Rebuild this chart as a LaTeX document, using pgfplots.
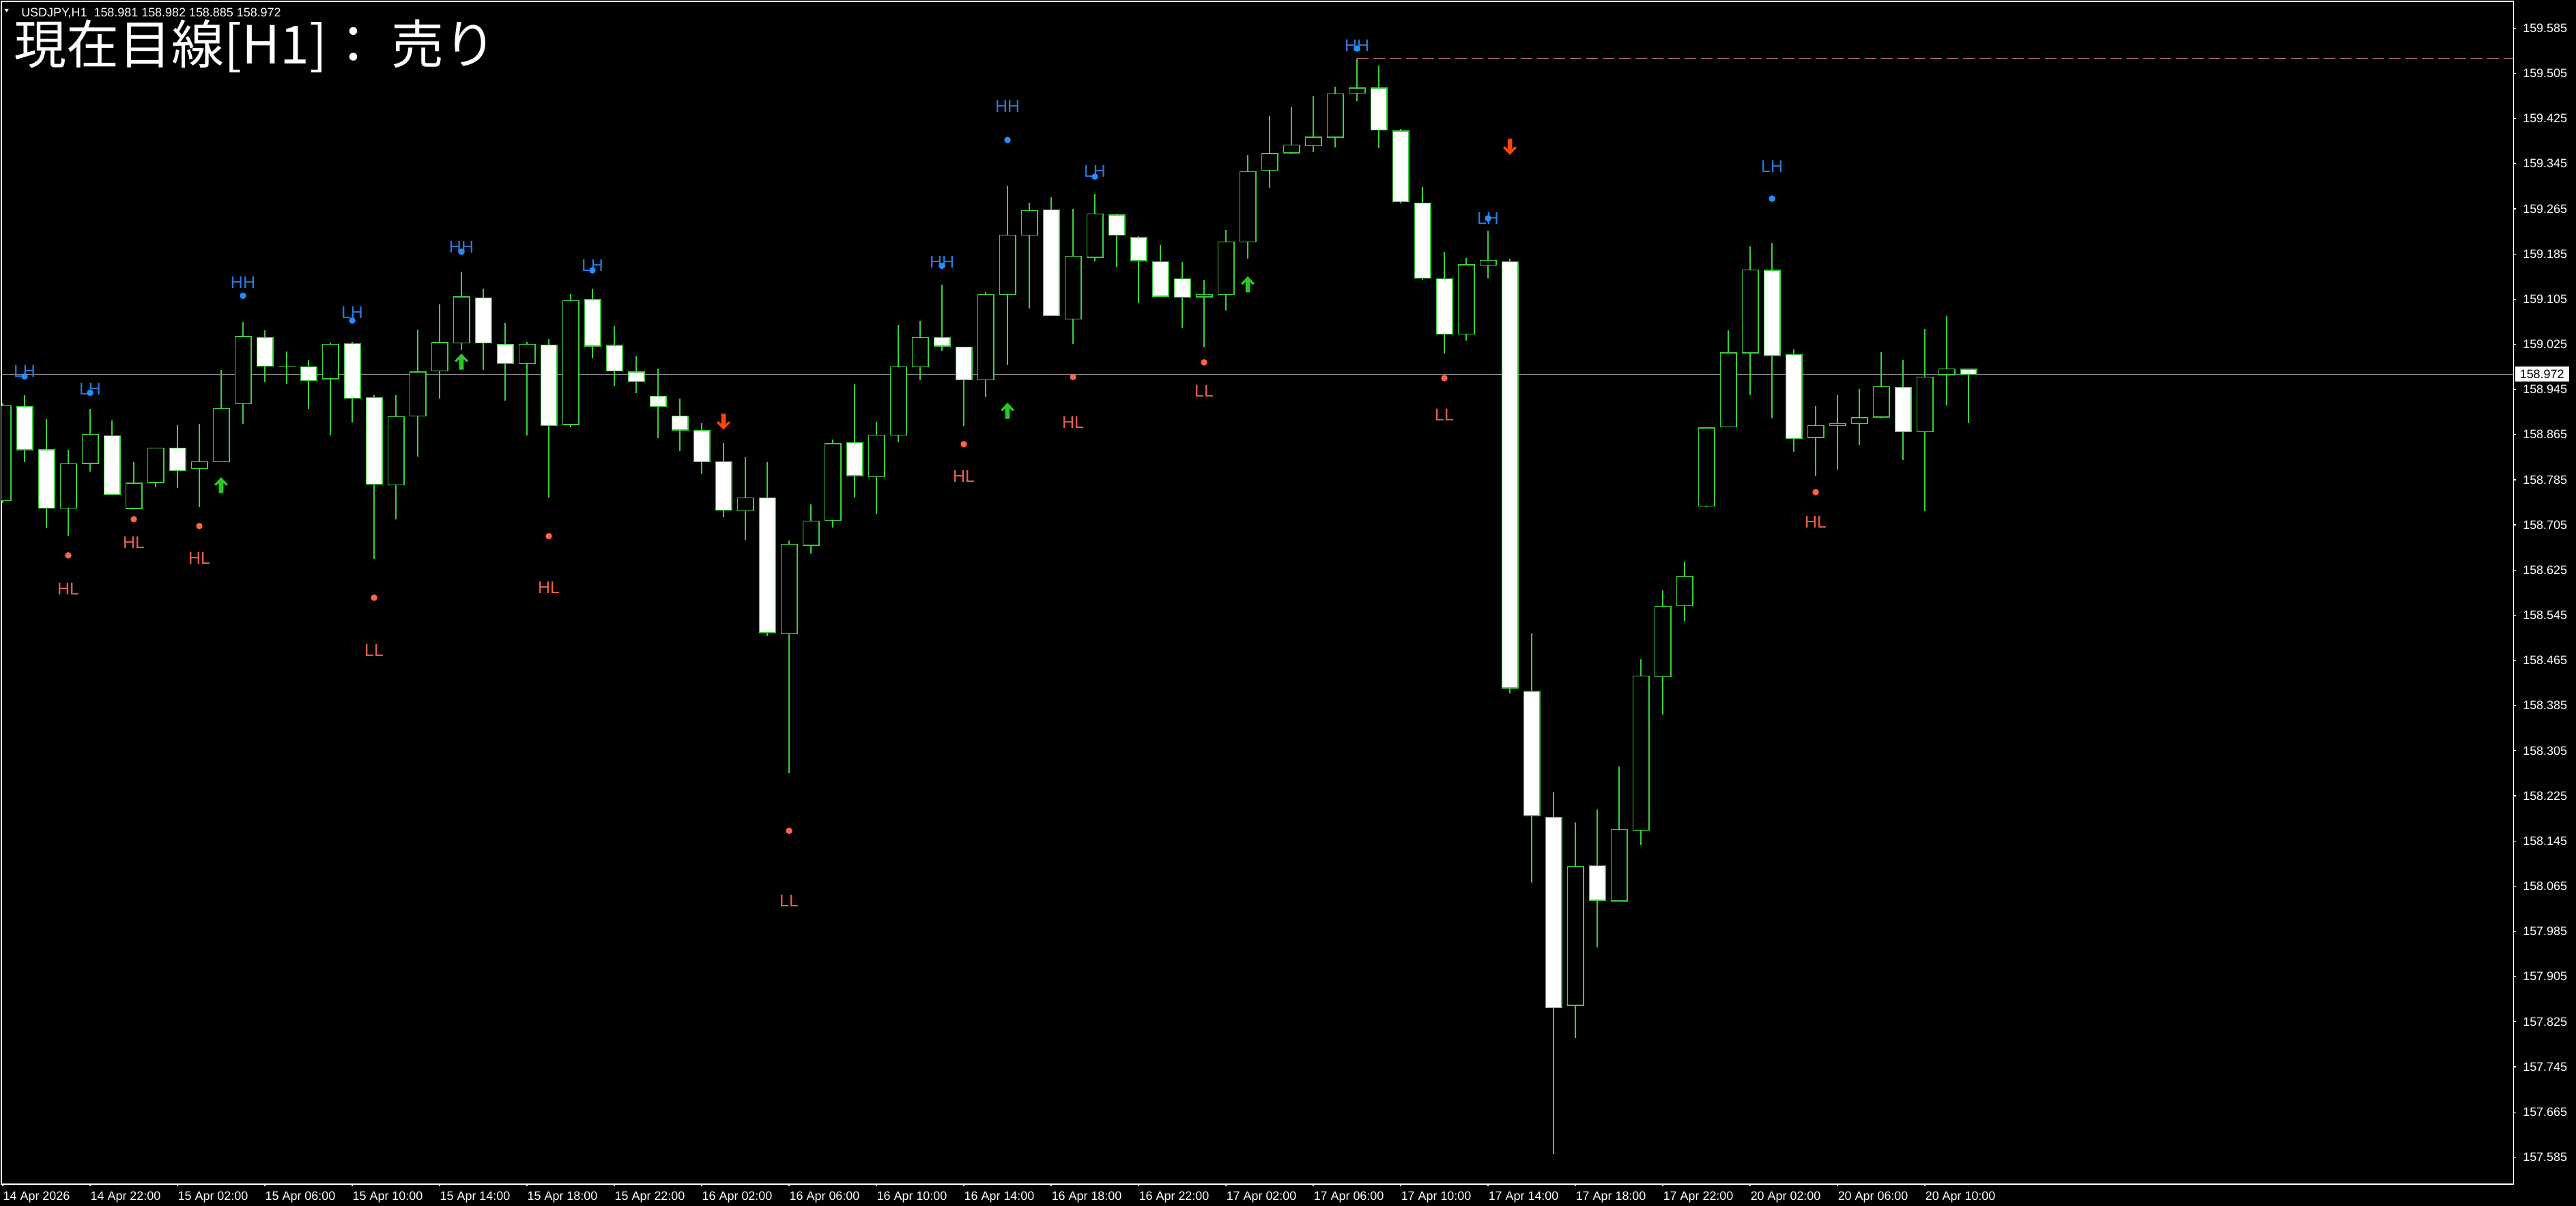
\documentclass[border=0pt]{standalone}
\usepackage{fontspec}
\setmainfont{Liberation Sans}
\newfontfamily\cjk{Noto Sans CJK JP}
\usepackage{pgfplots}
\usepackage{pgfplotstable}
\pgfplotsset{compat=1.18}

\definecolor{cgreen}{RGB}{55,210,55}
\definecolor{cprice}{RGB}{150,150,150}
\definecolor{cblue}{RGB}{40,122,222}
\definecolor{cbluedot}{RGB}{30,144,255}
\definecolor{cred}{RGB}{235,95,75}
\definecolor{creddot}{RGB}{255,99,71}
\definecolor{cup}{RGB}{40,200,40}
\definecolor{cdown}{RGB}{255,69,0}
\definecolor{cdash}{RGB}{190,115,115}

\newcommand\tickfont{\fontsize{5.1}{6}\selectfont}
\newcommand\lblfont{\fontsize{7.1}{8}\selectfont}
\def\hpx{0.0008}

\pgfplotsset{
  bare/.style={only marks, mark=none, mark size=0pt, mark options={draw=none, fill=none}},
}

% signal arrows
\pgfdeclareplotmark{arrup}{%
  \pgfpathmoveto{\pgfpoint{0mm}{1.2mm}}%
  \pgfpathlineto{\pgfpoint{1.0mm}{0.15mm}}%
  \pgfpathlineto{\pgfpoint{0.75mm}{-0.05mm}}%
  \pgfpathlineto{\pgfpoint{0.33mm}{0.35mm}}%
  \pgfpathlineto{\pgfpoint{0.33mm}{-1.15mm}}%
  \pgfpathlineto{\pgfpoint{-0.33mm}{-1.15mm}}%
  \pgfpathlineto{\pgfpoint{-0.33mm}{0.35mm}}%
  \pgfpathlineto{\pgfpoint{-0.75mm}{-0.05mm}}%
  \pgfpathlineto{\pgfpoint{-1.0mm}{0.15mm}}%
  \pgfpathclose\pgfusepathqfill}
\pgfdeclareplotmark{arrdown}{%
  \pgfpathmoveto{\pgfpoint{0mm}{-1.2mm}}%
  \pgfpathlineto{\pgfpoint{1.0mm}{-0.15mm}}%
  \pgfpathlineto{\pgfpoint{0.75mm}{0.05mm}}%
  \pgfpathlineto{\pgfpoint{0.33mm}{-0.35mm}}%
  \pgfpathlineto{\pgfpoint{0.33mm}{1.15mm}}%
  \pgfpathlineto{\pgfpoint{-0.33mm}{1.15mm}}%
  \pgfpathlineto{\pgfpoint{-0.33mm}{-0.35mm}}%
  \pgfpathlineto{\pgfpoint{-0.75mm}{0.05mm}}%
  \pgfpathlineto{\pgfpoint{-1.0mm}{-0.15mm}}%
  \pgfpathclose\pgfusepathqfill}

% bar index, open, high, low, close
\pgfplotstableread{
i O H L C
0 158.748 158.920 158.744 158.916
3 158.735 158.838 158.686 158.813
4 158.814 158.911 158.800 158.865
6 158.734 158.816 158.733 158.779
7 158.780 158.842 158.772 158.841
9 158.805 158.884 158.737 158.817
10 158.817 158.979 158.816 158.911
11 158.920 159.064 158.884 159.039
13 158.986 159.012 158.954 158.986
15 158.964 159.028 158.863 159.025
18 158.776 158.935 158.715 158.897
19 158.898 159.051 158.826 158.976
20 158.978 159.096 158.929 159.028
21 159.027 159.154 159.015 159.109
24 158.991 159.029 158.863 159.025
26 158.883 159.114 158.878 159.102
34 158.730 158.825 158.678 158.753
36 158.512 158.677 158.265 158.671
37 158.669 158.741 158.654 158.712
38 158.713 158.856 158.700 158.849
40 158.790 158.888 158.725 158.864
41 158.864 159.059 158.851 158.985
42 158.985 159.067 158.961 159.037
45 158.962 159.117 158.931 159.113
46 159.113 159.306 158.988 159.218
47 159.218 159.276 159.088 159.262
49 159.070 159.265 159.025 159.181
50 159.179 159.292 159.172 159.256
55 159.109 159.139 159.020 159.113
56 159.113 159.228 159.085 159.206
57 159.206 159.360 159.177 159.331
58 159.333 159.429 159.302 159.363
59 159.364 159.445 159.362 159.378
60 159.377 159.465 159.365 159.392
61 159.392 159.482 159.374 159.469
62 159.470 159.531 159.456 159.479
67 159.043 159.178 159.031 159.166
68 159.165 159.226 159.142 159.174
72 157.854 158.178 157.796 158.100
74 158.039 158.277 158.038 158.165
75 158.164 158.467 158.138 158.437
76 158.436 158.589 158.369 158.561
77 158.562 158.640 158.535 158.614
78 158.738 158.878 158.737 158.877
79 158.879 159.050 158.878 159.010
80 159.010 159.199 158.935 159.157
83 158.860 158.915 158.792 158.881
84 158.881 158.935 158.803 158.885
85 158.885 158.946 158.847 158.895
86 158.896 159.011 158.894 158.950
88 158.870 159.052 158.729 158.967
89 158.971 159.075 158.917 158.981
}\bull

\pgfplotstableread{
i O H L C
1 158.915 158.935 158.816 158.838
2 158.838 158.892 158.699 158.735
5 158.863 158.890 158.758 158.759
8 158.841 158.882 158.770 158.801
12 159.037 159.050 158.958 158.986
14 158.985 158.998 158.911 158.961
16 159.026 159.029 158.886 158.929
17 158.931 158.935 158.645 158.777
22 159.107 159.123 158.979 159.027
23 159.025 159.063 158.925 158.991
25 159.024 159.034 158.753 158.881
27 159.104 159.123 159.000 159.022
28 159.023 159.057 158.950 158.978
29 158.976 159.004 158.939 158.959
30 158.933 158.982 158.859 158.915
31 158.898 158.929 158.836 158.873
32 158.872 158.885 158.796 158.817
33 158.817 158.850 158.719 158.731
35 158.753 158.816 158.508 158.514
39 158.851 158.954 158.754 158.792
43 159.037 159.131 159.014 159.022
44 159.020 159.021 158.881 158.962
48 159.263 159.286 159.075 159.076
51 159.254 159.257 159.162 159.218
52 159.214 159.217 159.098 159.173
53 159.171 159.201 159.109 159.110
54 159.141 159.171 159.053 159.108
63 159.479 159.519 159.373 159.405
64 159.403 159.406 159.275 159.278
65 159.275 159.304 159.139 159.142
66 159.141 159.189 159.008 159.043
69 159.171 159.177 158.407 158.416
70 158.410 158.513 158.071 158.190
71 158.187 158.232 157.590 157.850
73 158.101 158.201 157.957 158.040
81 159.156 159.204 158.894 159.005
82 159.007 159.016 158.835 158.858
87 158.949 158.998 158.820 158.870
90 158.981 158.982 158.885 158.972
}\bear

% swing labels: bar, label y, dot y, text
\pgfplotstableread{
i y d t
1 158.977 158.968 LH
4 158.946 158.939 LH
11 159.134 159.111 HH
16 159.081 159.067 LH
21 159.197 159.189 HH
27 159.165 159.156 LH
43 159.171 159.164 HH
46 159.447 159.387 HH
50 159.331 159.322 LH
62 159.554 159.549 HH
68 159.248 159.248 LH
81 159.340 159.283 LH
}\highs

\pgfplotstableread{
i y d t
3 158.592 158.651 HL
6 158.674 158.715 HL
9 158.646 158.703 HL
17 158.483 158.576 LL
25 158.594 158.685 HL
36 158.039 158.163 LL
44 158.791 158.848 HL
49 158.886 158.967 HL
55 158.942 158.993 LL
66 158.900 158.965 LL
83 158.710 158.763 HL
}\lows

\begin{document}
\begin{tikzpicture}
\useasboundingbox (0,0) rectangle (377.4mm,176.7mm);
\fill[black] (0,0) rectangle (377.4mm,176.7mm);
\begin{axis}[
    at={(0.2mm,3.2mm)}, anchor=south west,
    scale only axis, width=368mm, height=173.3mm,
    xmin=-0.0625, xmax=114.9375,
    ymin=157.53704, ymax=159.63258,
    axis line style={white, line width=0.12mm},
    tick style={white, line width=0.12mm},
    tick align=outside, major tick length=0.35mm,
    xtick pos=left, ytick pos=right, yticklabel pos=right,
    xtick={0,4,...,88},
    xticklabels={14 Apr 2026, 14 Apr 22:00, 15 Apr 02:00, 15 Apr 06:00, 15 Apr 10:00, 15 Apr 14:00, 15 Apr 18:00, 15 Apr 22:00, 16 Apr 02:00, 16 Apr 06:00, 16 Apr 10:00, 16 Apr 14:00, 16 Apr 18:00, 16 Apr 22:00, 17 Apr 02:00, 17 Apr 06:00, 17 Apr 10:00, 17 Apr 14:00, 17 Apr 18:00, 17 Apr 22:00, 20 Apr 02:00, 20 Apr 06:00, 20 Apr 10:00},
    ytick={157.585,157.665,157.745,157.825,157.905,157.985,158.065,158.145,158.225,158.305,158.385,158.465,158.545,158.625,158.705,158.785,158.865,158.945,159.025,159.105,159.185,159.265,159.345,159.425,159.505,159.585},
    /pgf/number format/assume math mode=true,
    yticklabel style={font=\tickfont, text=white, anchor=west, inner sep=0pt, xshift=1.0mm,
      /pgf/number format/fixed, /pgf/number format/fixed zerofill, /pgf/number format/precision=3},
    xticklabel style={font=\tickfont, text=white, anchor=north west, inner sep=0pt, yshift=-0.7mm},
    extra y ticks={158.972},
    extra y tick labels={158.972},
    extra y tick style={major tick length=0pt,
      yticklabel style={fill=white, text=black, inner xsep=0.7mm, inner ysep=0.45mm, xshift=-0.8mm}},
]
% current price line and last HH level
\addplot[cprice, line width=0.1mm] coordinates {(-1,158.972) (116,158.972)};
\addplot[cdash, line width=0.1mm, dash pattern=on 1.7mm off 0.7mm] coordinates {(62,159.531) (116,159.531)};

% wicks
\addplot[bare, error bars/.cd, y dir=plus, y explicit, error mark=none,
  error bar style={cgreen, line width=0.13mm}]
  table[x=i, y=L, y error plus expr={\thisrow{H}-\thisrow{L}}] {\bull};
\addplot[bare, error bars/.cd, y dir=plus, y explicit, error mark=none,
  error bar style={cgreen, line width=0.13mm}]
  table[x=i, y=L, y error plus expr={\thisrow{H}-\thisrow{L}}] {\bear};

% bodies: green outline, then black (up) or white (down) fill
\addplot[bare, error bars/.cd, y dir=plus, y explicit, error mark=none,
  error bar style={cgreen, line width=2.5mm}]
  table[x=i, y expr={\thisrow{O}-\hpx}, y error plus expr={\thisrow{C}-\thisrow{O}+2*\hpx}] {\bull};
\addplot[bare, error bars/.cd, y dir=plus, y explicit, error mark=none,
  error bar style={black, line width=2.24mm}]
  table[x=i, y expr={\thisrow{O}+\hpx}, y error plus expr={max(\thisrow{C}-\thisrow{O}-2*\hpx,0)}] {\bull};
\addplot[bare, error bars/.cd, y dir=plus, y explicit, error mark=none,
  error bar style={cgreen, line width=2.5mm}]
  table[x=i, y expr={\thisrow{C}-\hpx}, y error plus expr={\thisrow{O}-\thisrow{C}+2*\hpx}] {\bear};
\addplot[bare, error bars/.cd, y dir=plus, y explicit, error mark=none,
  error bar style={white, line width=2.24mm}]
  table[x=i, y expr={\thisrow{C}+\hpx}, y error plus expr={max(\thisrow{O}-\thisrow{C}-2*\hpx,0)}] {\bear};

% swing labels and dots
\addplot[bare, nodes near coords, point meta=explicit symbolic,
  nodes near coords align=center,
  every node near coord/.append style={font=\lblfont, text=cblue, inner sep=0pt}]
  table[x=i, y=y, meta=t] {\highs};
\addplot[bare, nodes near coords, point meta=explicit symbolic,
  nodes near coords align=center,
  every node near coord/.append style={font=\lblfont, text=cred, inner sep=0pt}]
  table[x=i, y=y, meta=t] {\lows};
\addplot[only marks, mark=*, mark size=0.4mm, color=cbluedot] table[x=i, y=d] {\highs};
\addplot[only marks, mark=*, mark size=0.4mm, color=creddot] table[x=i, y=d] {\lows};

% entry arrows
\addplot[only marks, mark=arrup, color=cup] coordinates {(10,158.775) (21,158.994) (46,158.907) (57,159.131)};
\addplot[only marks, mark=arrdown, color=cdown] coordinates {(33,158.888) (69,159.375)};
\end{axis}

\fill[white] (0.66mm,175.4mm) -- (1.28mm,175.4mm) -- (0.97mm,174.9mm) -- cycle;
\node[anchor=north west, inner sep=0pt, text=white, font=\tickfont] at (3.06mm,175.53mm)
  {USDJPY,H1\ \ 158.981 158.982 158.885 158.972};
\node[anchor=north west, inner sep=0pt, text=white, font={\cjk\fontsize{21.9}{24}\selectfont}] at (2.0mm,173.9mm)
  {現在目線[H1]： 売り};
\end{tikzpicture}
\end{document}
